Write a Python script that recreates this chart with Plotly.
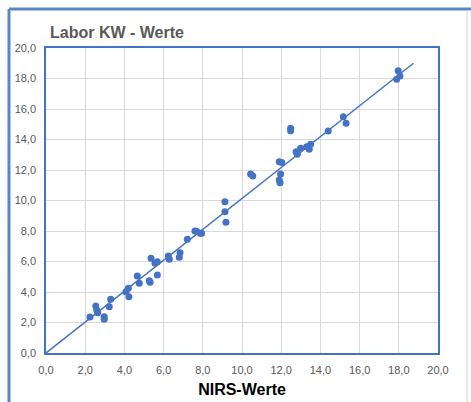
import plotly.graph_objects as go

# NIRS prediction vs. laboratory reference values (KW)
nirs_werte = [
    2.24, 2.54, 2.59, 2.64, 2.97, 2.97, 3.23, 3.30,
    4.08, 4.20, 4.23, 4.66, 4.76, 5.27, 5.31, 5.68,
    5.36, 5.56, 5.68, 6.24, 6.29, 6.84, 6.80, 7.21,
    7.60, 7.69, 7.86, 7.94, 9.13, 9.13, 9.18, 10.44,
    10.55, 11.90, 12.03, 11.97, 11.90, 11.94, 12.48, 12.48,
    12.76, 12.82, 12.99, 13.30, 13.50, 13.43, 14.40, 15.17,
    15.31, 17.97, 17.89, 18.06,
]
labor_werte = [
    2.36, 3.08, 2.82, 2.64, 2.38, 2.21, 3.04, 3.52,
    4.02, 4.24, 3.69, 5.05, 4.57, 4.74, 4.64, 5.11,
    6.21, 5.88, 5.99, 6.36, 6.14, 6.58, 6.28, 7.46,
    8.00, 7.96, 7.85, 7.85, 9.92, 9.27, 8.57, 11.74,
    11.61, 12.54, 12.50, 11.74, 11.34, 11.17, 14.73, 14.58,
    13.20, 13.03, 13.42, 13.53, 13.69, 13.36, 14.56, 15.50,
    15.06, 18.51, 17.95, 18.16,
]

# Regression line end points
linie_x = [0.0, 18.75]
linie_y = [0.0, 19.0]

tick_vals = [0, 2, 4, 6, 8, 10, 12, 14, 16, 18, 20]

blau = "#4472C4"
grau_text = "#595959"

fig = go.Figure()
fig.add_trace(go.Scatter(
    x=linie_x, y=linie_y, mode="lines",
    line=dict(color=blau, width=1.5), hoverinfo="skip", showlegend=False,
))
fig.add_trace(go.Scatter(
    x=nirs_werte, y=labor_werte, mode="markers",
    marker=dict(color=blau, size=7, line=dict(width=0)), showlegend=False,
))

axis_common = dict(
    range=[0, 20], tickvals=tick_vals, tickformat=".1f",
    showgrid=True, gridcolor="#d9d9d9", gridwidth=1,
    showline=True, linecolor=blau, linewidth=1.5, mirror=True,
    zeroline=False, ticks="", ticklabelstandoff=6, automargin=False,
    tickfont=dict(family="Liberation Sans, Arial, sans-serif", size=11, color=grau_text),
)

fig.update_layout(
    width=471, height=402,
    margin=dict(l=46, r=33, t=48, b=49),
    paper_bgcolor="white", plot_bgcolor="white",
    separators=",.",
    xaxis=dict(
        **axis_common,
        title=dict(text="<b>NIRS-Werte</b>", standoff=9,
                   font=dict(family="Liberation Sans, Arial, sans-serif", size=16, color="#000000")),
    ),
    yaxis=dict(**axis_common),
    annotations=[dict(
        text="<b>Labor KW - Werte</b>", xref="paper", yref="paper",
        x=(48 - 46) / 392, y=(353 - 33) / 305, xanchor="left", yanchor="middle",
        showarrow=False,
        font=dict(family="Liberation Sans, Arial, sans-serif", size=16, color=grau_text),
    )],
    shapes=[
        # outer frame: blue top and left edges, thin grey right edge
        dict(type="line", xref="paper", yref="paper",
             x0=(9 - 46) / 392, x1=(471 - 46) / 392, y0=(353 - 9) / 305, y1=(353 - 9) / 305,
             line=dict(color="#5b87c9", width=3)),
        dict(type="line", xref="paper", yref="paper",
             x0=(9 - 46) / 392, x1=(9 - 46) / 392, y0=(353 - 9) / 305, y1=(353 - 402) / 305,
             line=dict(color="#5b87c9", width=3)),
        dict(type="line", xref="paper", yref="paper",
             x0=(467 - 46) / 392, x1=(467 - 46) / 392, y0=(353 - 10) / 305, y1=(353 - 402) / 305,
             line=dict(color="#d0d0d0", width=1)),
    ],
)

fig.write_html("out.html")
